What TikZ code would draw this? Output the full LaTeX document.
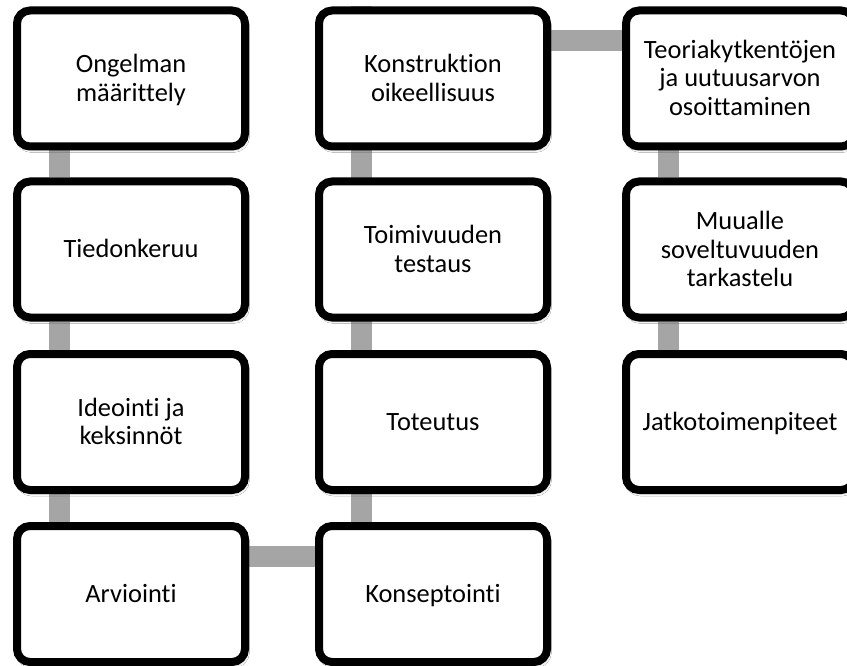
\documentclass[tikz,border=0pt]{standalone}
\usepackage{fontspec}
\setmainfont{Carlito}[Ligatures=NoCommon]
\usetikzlibrary{shadows.blur,backgrounds}
\definecolor{linkgray}{HTML}{A5A5A5}
% box text: fixed line pitch, tall struts may touch without extra skip
\newcommand{\boxfont}{\fontsize{26.4}{28.4}\selectfont\lineskiplimit -50pt\relax}
% every line gets the same height (24pt) and depth (7pt),
% so the text sits evenly in the boxes
\newcommand{\boxline}[1]{\rule[-7pt]{0pt}{31pt}#1}
\tikzset{
  stepbox/.style={
    draw=black, line width=8pt, fill=white, rounded corners=13pt,
    minimum width=228pt, minimum height=136pt, inner sep=0pt,
    align=center, text=black, font=\boxfont,
    blur shadow={shadow xshift=1.5pt, shadow yshift=-3pt,
                 shadow blur radius=3pt, shadow opacity=35}},
  link/.style={draw=linkgray, line width=21pt, line cap=butt}
}
\begin{document}
\begin{tikzpicture}[x=1pt, y=-1pt]
\useasboundingbox (0,0) rectangle (847,666);

% first column, top to bottom
\node[stepbox] (ongelma)  at (131, 78.5) {\boxline{Ongelman}\\\boxline{määrittely}};
\node[stepbox] (tieto)    at (131,249.5) {\boxline{Tiedonkeruu}};
\node[stepbox] (ideointi) at (131,422)   {\boxline{Ideointi ja}\\\boxline{keksinnöt}};
\node[stepbox] (arvio)    at (131,594)   {\boxline{Arviointi}};
% second column, bottom to top
\node[stepbox] (konsepti) at (433,594)   {\boxline{Konseptointi}};
\node[stepbox] (toteutus) at (433,422)   {\boxline{Toteutus}};
\node[stepbox] (testaus)  at (433,249.5) {\boxline{Toimivuuden}\\\boxline{testaus}};
\node[stepbox] (oikeus)   at (433, 78.5) {\boxline{Konstruktion}\\\boxline{oikeellisuus}};
% third column, top to bottom
\node[stepbox] (teoria)   at (740, 78.5) {\boxline{Teoriakytkentöjen}\\\boxline{ja uutuusarvon}\\\boxline{osoittaminen}};
\node[stepbox] (muualle)  at (740,249.5) {\boxline{Muualle}\\\boxline{soveltuvuuden}\\\boxline{tarkastelu}};
\node[stepbox] (jatko)    at (740,422)   {\boxline{Jatkotoimenpiteet}};

\begin{pgfonlayer}{background}
  \fill[white] (0,0) rectangle (847,666);
  % vertical links, near the left side of each column
  \foreach \a/\b in {ongelma/tieto, tieto/ideointi, ideointi/arvio,
                     testaus/oikeus, toteutus/testaus, konsepti/toteutus,
                     teoria/muualle, muualle/jatko}
    \draw[link] ([xshift=46.5pt]\a.south west) -- ([xshift=46.5pt]\b.north west);
  % horizontal links between columns
  \draw[link] ([yshift=-34pt]arvio.north east) -- ([yshift=-34pt]konsepti.north west);
  \draw[link] ([yshift=-34pt]oikeus.north east) -- ([yshift=-34pt]teoria.north west);
\end{pgfonlayer}
\end{tikzpicture}
\end{document}
